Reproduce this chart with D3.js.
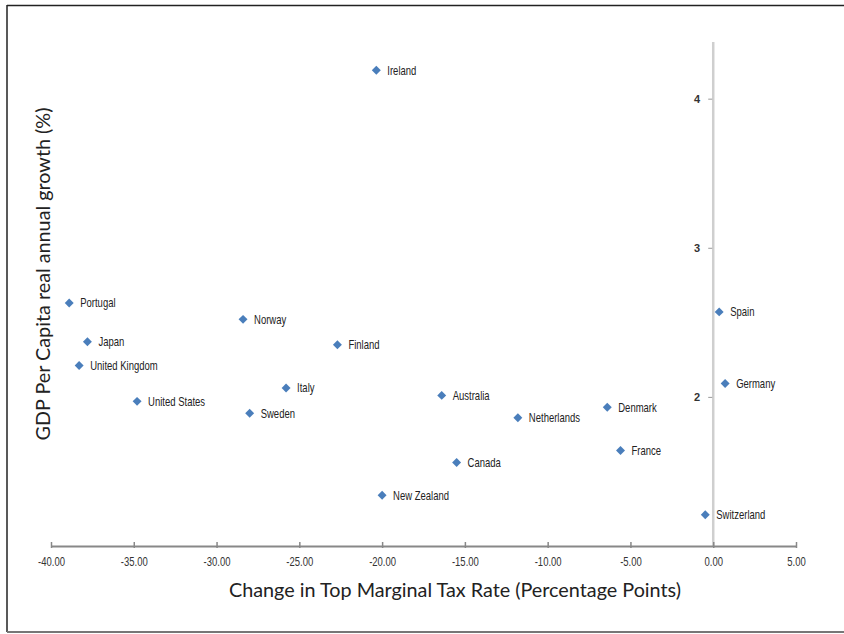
<!DOCTYPE html>
<html>
<head>
<meta charset="utf-8">
<script src="https://cdn.jsdelivr.net/npm/d3@7"></script>
<style>
    html, body { margin: 0; padding: 0; background: #fff; }
    svg { display: block; }
    .tick-x { font-family: "Liberation Sans", Arial, sans-serif; font-size: 12.5px; fill: #333; }
    .tick-y { font-family: "Liberation Sans", Arial, sans-serif; font-size: 11px; font-weight: bold; fill: #333; }
    .pt-label { font-family: "Liberation Sans", Arial, sans-serif; font-size: 12.5px; fill: #222; }
    .axis-title { font-family: Lato, "Open Sans", sans-serif; font-size: 19.8px; fill: #222; }
</style>
</head>
<body>
<svg width="844" height="634"></svg>
<script>
//  Countries with change in top marginal tax rate (pp) and GDP per capita growth (%)
const countries = ['Ireland', 'Portugal', 'Japan', 'United Kingdom', 'United States', 'Norway', 'Finland',
    'Italy', 'Sweden', 'Australia', 'Netherlands', 'Denmark', 'France', 'Canada', 'New Zealand',
    'Spain', 'Germany', 'Switzerland'];
const taxChange = [-20.35, -38.9, -37.8, -38.3, -34.8, -28.4, -22.7,
    -25.8, -28.0, -16.4, -11.8, -6.4, -5.6, -15.5, -20.0,
    0.36, 0.72, -0.48];
const gdpGrowth = [4.19, 2.63, 2.37, 2.21, 1.97, 2.52, 2.35,
    2.06, 1.89, 2.01, 1.86, 1.93, 1.64, 1.56, 1.34,
    2.57, 2.09, 1.21];

const xTicks = [-40, -35, -30, -25, -20, -15, -10, -5, 0, 5];
const yTicks = [2, 3, 4];

const svg = d3.select('svg');
const narrow = 0.76;    //  horizontal squeeze to mimic the condensed face of the original

//  Frame around the picture
svg.append('line').attr('x1', 7).attr('x2', 844).attr('y1', 5.5).attr('y2', 5.5)
    .attr('stroke', '#222').attr('stroke-width', 1.5);
svg.append('line').attr('x1', 7).attr('x2', 7).attr('y1', 5).attr('y2', 632)
    .attr('stroke', '#222').attr('stroke-width', 1.5);
svg.append('line').attr('x1', 7).attr('x2', 844).attr('y1', 632).attr('y2', 632)
    .attr('stroke', '#777').attr('stroke-width', 2);

//  Scales
const xScale = d3.scaleLinear().domain([-40, 5]).range([51, 796]);
const yScale = d3.scaleLinear().domain([1, 4.38]).range([546, 42]);

//======================================
//  Y axis (at x = 0)
//======================================
const yAxisX = xScale(0);
svg.append('line')
    .attr('x1', yAxisX).attr('x2', yAxisX)
    .attr('y1', yScale(4.38)).attr('y2', yScale(1))
    .attr('stroke', '#cfcfcf').attr('stroke-width', 2.5);

const yAxis = d3.axisLeft(yScale).tickValues(yTicks).tickSize(4).tickPadding(8).tickFormat(d3.format('d'));
const yAxisGroup = svg.append('g').attr('transform', `translate(${yAxisX - 1},0)`).call(yAxis);
yAxisGroup.select('.domain').remove();
yAxisGroup.selectAll('.tick line').attr('stroke', '#999');
yAxisGroup.selectAll('.tick text').attr('class', 'tick-y');

//======================================
//  X axis
//======================================
const xAxis = d3.axisBottom(xScale).tickValues(xTicks).tickSize(0).tickPadding(11).tickFormat(d3.format('.2f'));
const xAxisGroup = svg.append('g').attr('transform', `translate(0,${yScale(1)})`).call(xAxis);
xAxisGroup.select('.domain').attr('stroke', '#888').attr('stroke-width', 2);
xAxisGroup.selectAll('.tick line').remove();
xAxisGroup.selectAll('.tick')
    .append('line').attr('y1', -4).attr('y2', 2).attr('stroke', '#888').attr('stroke-width', 1.5);
xAxisGroup.selectAll('.tick text')
    .attr('class', 'tick-x')
    .attr('transform', `scale(${narrow},1)`)
    .text(d => d3.format('.2f')(d).replace('\u2212', '-'));

//  Axis titles
svg.append('text')
    .attr('class', 'axis-title')
    .attr('text-anchor', 'middle')
    .attr('x', 455).attr('y', 597)
    .text('Change in Top Marginal Tax Rate (Percentage Points)');

svg.append('text')
    .attr('class', 'axis-title')
    .attr('text-anchor', 'middle')
    .attr('transform', 'translate(50,274) rotate(-90)')
    .text('GDP Per Capita real annual growth (%)');

//======================================
//  Points (diamonds) and labels
//======================================
const points = countries.map((name, i) => ({ name, x: taxChange[i], y: gdpGrowth[i] }));
const diamond = d3.symbol().type(d3.symbolSquare).size(40);

const plots = svg.append('g');
plots.selectAll('path')
    .data(points)
    .enter()
    .append('path')
    .attr('d', diamond)
    .attr('fill', '#4a7ebb')
    .attr('transform', d => `translate(${xScale(d.x)},${yScale(d.y)}) rotate(45)`);

plots.selectAll('text')
    .data(points)
    .enter()
    .append('text')
    .attr('class', 'pt-label')
    .attr('transform', d => `translate(${xScale(d.x) + 11},${yScale(d.y) + 4.5}) scale(${narrow},1)`)
    .text(d => d.name);
</script>
</body>
</html>
